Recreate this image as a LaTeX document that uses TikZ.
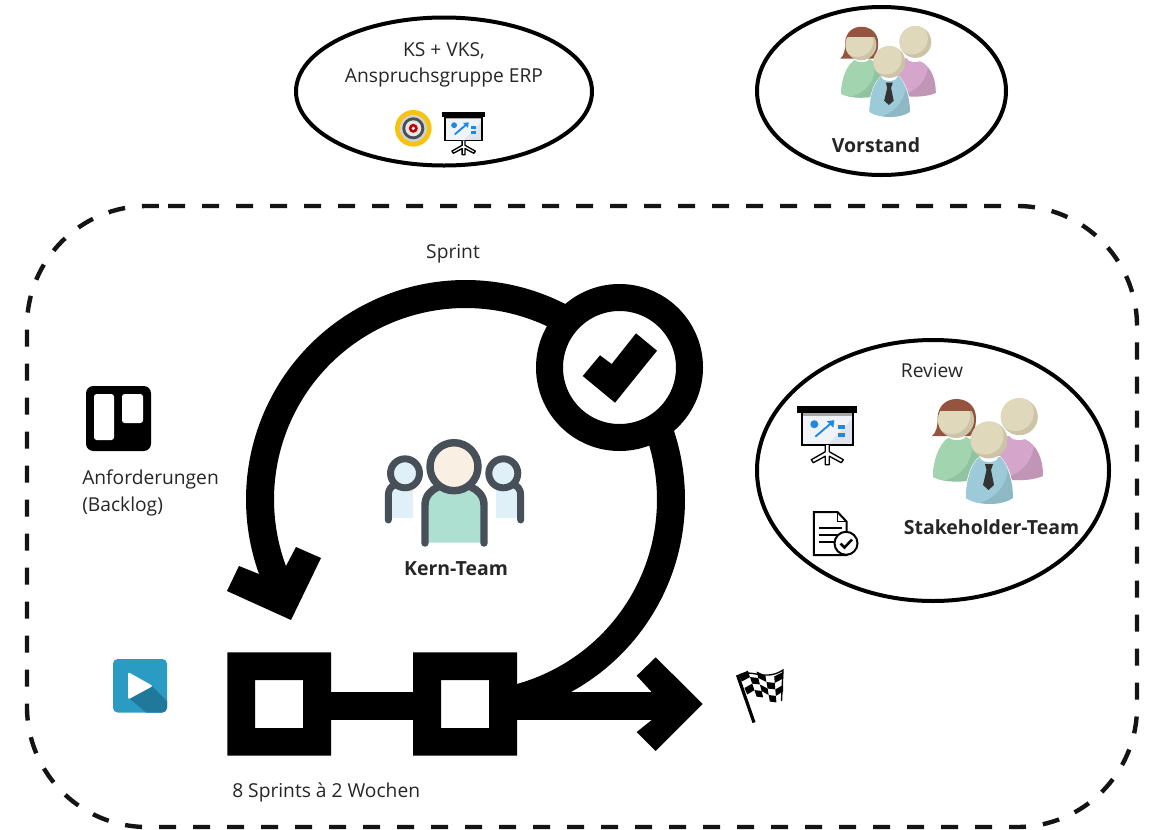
\documentclass[tikz,border=0pt]{standalone}
\usepackage{fontspec}
\setmainfont{Open Sans}
\usetikzlibrary{shapes.geometric}
\definecolor{inktext}{HTML}{262626}
\definecolor{headc}{HTML}{E0D8BA}
\definecolor{heads}{HTML}{CBC4A6}
\definecolor{hairc}{HTML}{95543F}
\definecolor{greenc}{HTML}{A2D4B0}
\definecolor{greens}{HTML}{90C3A0}
\definecolor{purpc}{HTML}{D5A5CB}
\definecolor{purps}{HTML}{C195B6}
\definecolor{bluec}{HTML}{9CCAD8}
\definecolor{blues}{HTML}{8DB8C4}
\definecolor{teamdark}{HTML}{474F58}
\definecolor{teamface}{HTML}{F9EFE2}
\definecolor{teammint}{HTML}{AEE0D2}
\definecolor{teamsky}{HTML}{DFF0F9}
\definecolor{playc}{HTML}{2A9CC4}
\definecolor{plays}{HTML}{20799B}
\definecolor{boardblue}{HTML}{1E88E5}
\definecolor{screenc}{HTML}{F0F3F8}
\definecolor{screens}{HTML}{DFE3EC}
\definecolor{targety}{HTML}{F6C40F}
\newcommand{\phead}[3]{%
  \fill[heads] (#1,#2) circle (#3);
  \begin{scope}\clip (#1,#2) circle (#3);
    \fill[headc] (#1-4,#2-4) circle (#3);
  \end{scope}}
\tikzset{
  px/.style={x=0.75pt,y=-0.75pt},
  oval/.style={shape=ellipse,draw=black,line width=3pt,inner sep=0pt,fill=white},
  plain/.style={font=\fontsize{14.4}{17}\selectfont,text=inktext,inner sep=0pt},
  strong/.style={font=\fontsize{14.6}{18}\selectfont\bfseries,text=inktext,inner sep=0pt},
  flow/.style={line width=21pt,draw=black,line cap=butt},
  people/.pic={
    % back man
    \fill[purps] (88,46) .. controls (118,46) and (123,70) .. (123,86) .. controls (112,91) and (95,91) .. (80,89) -- (72,60) -- cycle;
    \begin{scope}
      \clip (88,46) .. controls (118,46) and (123,70) .. (123,86) .. controls (112,91) and (95,91) .. (80,89) -- (72,60) -- cycle;
      \fill[purpc] (78,52) circle (36);
    \end{scope}
    \fill[white] (99,46) ellipse (9 and 4);
    \phead{99.3}{26.7}{18.5}
    % woman
    \fill[hairc] (12,46) .. controls (16,43) and (18,36) .. (17.5,28) .. controls (18,15) and (27,9) .. (36.5,9) .. controls (47,9) and (56,16) .. (56,28) .. controls (56,38) and (53,44) .. (50,46) -- cycle;
    \fill[greens] (30,47) .. controls (20,52) and (13,70) .. (13,87) .. controls (25,93) and (45,93) .. (60,88) -- (60,60) .. controls (57,53) and (52,50) .. (46,47) -- cycle;
    \begin{scope}
      \clip (30,47) .. controls (20,52) and (13,70) .. (13,87) .. controls (25,93) and (45,93) .. (60,88) -- (60,60) .. controls (57,53) and (52,50) .. (46,47) -- cycle;
      \fill[greenc] (17,56) circle (35);
    \end{scope}
    \fill[white] (37,47) ellipse (8 and 3);
    \begin{scope}
      \clip (10,21) rectangle (60,60);
      \phead{36}{30}{18}
    \end{scope}
    % front man
    \fill[white] (60,66) .. controls (51,72) and (45,90) .. (45,109) -- (94,109) .. controls (94,90) and (88,74) .. (80,66) -- cycle;
    \fill[blues] (60,67) .. controls (52,72) and (46,90) .. (46,108) .. controls (58,116) and (82,116) .. (93,108) .. controls (93,90) and (87,74) .. (80,67) -- cycle;
    \begin{scope}
      \clip (60,67) .. controls (52,72) and (46,90) .. (46,108) .. controls (58,116) and (82,116) .. (93,108) .. controls (93,90) and (87,74) .. (80,67) -- cycle;
      \fill[bluec] (50,76) circle (38);
    \end{scope}
    \fill[white] (69,67) ellipse (9 and 5);
    \fill[black!80] (65,74) -- (73,74) -- (71,80) -- (74,95) -- (68.5,100) -- (63,95) -- (66.5,80) -- cycle;
    \phead{69}{50}{18.5}
  },
  board/.pic={
    \fill[screens] (4.5,7) rectangle (55.5,39.5);
    \fill[screenc] (4.5,7) -- (55.5,7) -- (55.5,12) -- (30,39.5) -- (4.5,39.5) -- cycle;
    \fill[black!35] (4.5,7) rectangle (55.5,10);
    \draw[line width=1.1pt] (4.5,7) rectangle (55.5,39.5);
    \fill[black] (0,0) rectangle (59.5,7.5);
    \draw[line width=1pt,fill=white,line join=round] (28,39.5) -- (28,46) -- (14,54) -- (16,57) -- (28,50.5) -- (28,59) -- (32,59) -- (32,50.5) -- (44,57) -- (46,54) -- (32,46) -- (32,39.5);
    \fill[boardblue] (17,18.5) circle (4);
    \draw[boardblue,line width=1.4pt] (18,31) -- (35,16.5);
    \fill[boardblue] (37,14.5) -- (29.5,15.5) -- (36,22) -- cycle;
    \fill[boardblue] (40.3,19.5) rectangle (47.3,23.5);
    \fill[boardblue] (40.3,27) rectangle (47.3,31);
  }
}
\begin{document}
\begin{tikzpicture}[px,
  declare function={
    flagx(\u,\v)=739+44*\u+11*\v*(1-\u);
    flagy(\u,\v)=675+26*\v-4*sin(360*\u)-3*\u;
  }]
\useasboundingbox (0,0) rectangle (1153,829);
\fill[white] (0,0) rectangle (1153,829);

% dashed frame
\draw[line width=3.3pt,draw=black!92,dash pattern=on 12.75pt off 12.75pt,rounded corners=90pt]
  (168,206) -- (1137,206) -- (1137,827) -- (27,827) -- (27,206) -- (168,206);

% ovals
\node[oval,minimum width=296*0.75pt,minimum height=148*0.75pt] (ovalA) at (444,91.5) {};
\node[oval,minimum width=249*0.75pt,minimum height=168*0.75pt] (ovalB) at (881.5,91) {};
\node[oval,minimum width=352*0.75pt,minimum height=261*0.75pt] (ovalC) at (933,470.5) {};

% sprint loop
\draw[flow] plot[domain=159:320,samples=120] ({465.5+205.5*cos(\x)},{499.5+205.5*sin(\x)});
\draw[flow] plot[domain=320:435,samples=90] ({465.5+205.5*cos(\x)},{499.5+205.5*sin(\x)});
\fill[black] (227,591) -- (239,566) -- (259,574) -- (286,566) -- (296,547) -- (321,558) -- (291,620) -- cycle;
\draw[line width=20.25pt,fill=white] (619.5,367.5) circle (70);
\fill[black] (582.7,376) -- (600,355.3) -- (611.7,364) -- (636,333.3) -- (657,350.7) -- (615,402.7) -- cycle;

% timeline
\fill[black] (331,692) rectangle (413,720);
\fill[black] (517,692) rectangle (652,720);
\fill[black,even odd rule] (227.3,652.3) rectangle (331,755.7) (255,680) rectangle (303,728);
\fill[black,even odd rule] (413,652.3) rectangle (517,755.7) (441,680) rectangle (489,728);
\fill[black] (651.7,692) -- (636.7,675.7) -- (655.7,657.3) -- (702.7,704) -- (655.7,751) -- (636.7,732) -- (651.7,720) -- cycle;

% target icon
\fill[targety] (413.3,128.3) circle (18.3);
\fill[black!18] (413.3,128.3) circle (13.5);
\fill[teamdark] (413.3,128.3) circle (11);
\fill[white!90!black] (413.3,128.3) circle (8);
\fill[red!75!black] (413.3,128.3) circle (4.5);
\fill[white] (413.3,128.3) circle (1.8);

% people
\pic (vorstandpeople) [scale=0.86] at (830,19) {people};
\pic (stakepeople) at (920,390) {people};

% boards
\pic (boardA) [scale=0.73] at (441.7,111.7) {board};
\pic (boardB) at (797.3,405.7) {board};

% doc icon
\draw[line width=1.5pt,fill=white,line join=miter] (813.8,512) -- (837.5,512) -- (846.5,521.5) -- (846.5,555) -- (813.8,555) -- cycle;
\draw[line width=1.1pt] (837.5,512) -- (837.5,521.5) -- (846.5,521.5);
\draw[line width=1.2pt] (819,528) -- (842,528) (819,535) -- (839,535) (819,542) -- (834,542);
\draw[line width=1.5pt,fill=white] (846,543.3) circle (11.5);
\draw[line width=1.9pt] (840.5,543.5) -- (844.5,547.5) -- (852,539.5);

% kern-team icon
\fill[teamsky] (391.7,486) rectangle (413,518);
\fill[teamsky] (496,486) rectangle (516.7,518);
\draw[teamdark,line width=5.2pt,line cap=round,fill=none] (388.3,520) -- (388.3,495) .. controls (388.3,490) and (391,486) .. (395,485);
\draw[teamdark,line width=5.2pt,line cap=round,fill=none] (520.7,520) -- (520.7,495) .. controls (520.7,490) and (518,486) .. (514,485);
\draw[teamdark,line width=5.2pt,fill=teamsky] (405,473.3) circle (14.5);
\draw[teamdark,line width=5.2pt,fill=teamsky] (503.3,473.3) circle (14.5);
\fill[teammint] (425,500) .. controls (425,494) and (432,488) .. (440,486) -- (468,486) .. controls (476,488) and (484,494) .. (484,500) -- (484,542.7) -- (425,542.7) -- cycle;
\draw[teamdark,line width=5.6pt,line cap=round] (425,543) -- (425,505) .. controls (425,496) and (431,490) .. (438,487);
\draw[teamdark,line width=5.6pt,line cap=round] (484,543) -- (484,505) .. controls (484,496) and (478,490) .. (471,487);
\draw[teamdark,line width=5.6pt,fill=teamface] (454,466.7) circle (24);

% trello icon
\fill[black,rounded corners=5.5pt] (86,386) rectangle (151,451);
\fill[white,rounded corners=2pt] (94,394) rectangle (114,440);
\fill[white,rounded corners=2pt] (122,394) rectangle (143,423);

% play icon
\fill[playc,rounded corners=3.5pt] (113,659) rectangle (167,712.5);
\begin{scope}
  \clip[rounded corners=3.5pt] (113,659) rectangle (167,712.5);
  \fill[plays] (152,686) -- (167,701) -- (167,712.5) -- (146,712.5) -- (129,698) -- cycle;
\end{scope}
\fill[white,rounded corners=1.2pt] (128,672) -- (153,686) -- (128,699.5) -- cycle;

% flag
\foreach \c in {0,...,4}{
  \foreach \r in {0,...,3}{
    \pgfmathtruncatemacro{\odd}{mod(\c+\r,2)}
    \ifnum\odd=0
      \pgfmathsetmacro{\ua}{\c/5}\pgfmathsetmacro{\ub}{(\c+1)/5}
      \pgfmathsetmacro{\va}{\r/4}\pgfmathsetmacro{\vb}{(\r+1)/4}
      \fill[black] ({flagx(\ua,\va)},{flagy(\ua,\va)}) -- ({flagx(\ub,\va)},{flagy(\ub,\va)}) -- ({flagx(\ub,\vb)},{flagy(\ub,\vb)}) -- ({flagx(\ua,\vb)},{flagy(\ua,\vb)}) -- cycle;
    \fi
  }
}
\draw[line width=1pt] ({flagx(0,0)},{flagy(0,0)}) .. controls (750,668) and (765,682) .. (783,670) -- (781.5,701);
\draw[line width=2.4pt] (737.5,675) -- (754,722.5);

% texts
\node[plain,anchor=base] (tA) at (444,56) {KS + VKS,};
\node[plain,anchor=base] (tB) at (444,82) {Anspruchsgruppe ERP};
\node[strong,anchor=base] (tC) at (876,152) {Vorstand};
\node[plain,anchor=base] (tD) at (453,258) {Sprint};
\node[plain,anchor=base] (tE) at (932,377) {Review};
\node[strong,anchor=base] (tF) at (991.5,534) {Stakeholder-Team};
\node[strong,anchor=base] (tG) at (456,575) {Kern-Team};
\node[plain,anchor=base west] (tH) at (82,484) {Anforderungen};
\node[plain,anchor=base west] (tI) at (82,511) {(Backlog)};
\node[plain,anchor=base west] (tJ) at (232,797) {8 Sprints à 2 Wochen};
\end{tikzpicture}
\end{document}
